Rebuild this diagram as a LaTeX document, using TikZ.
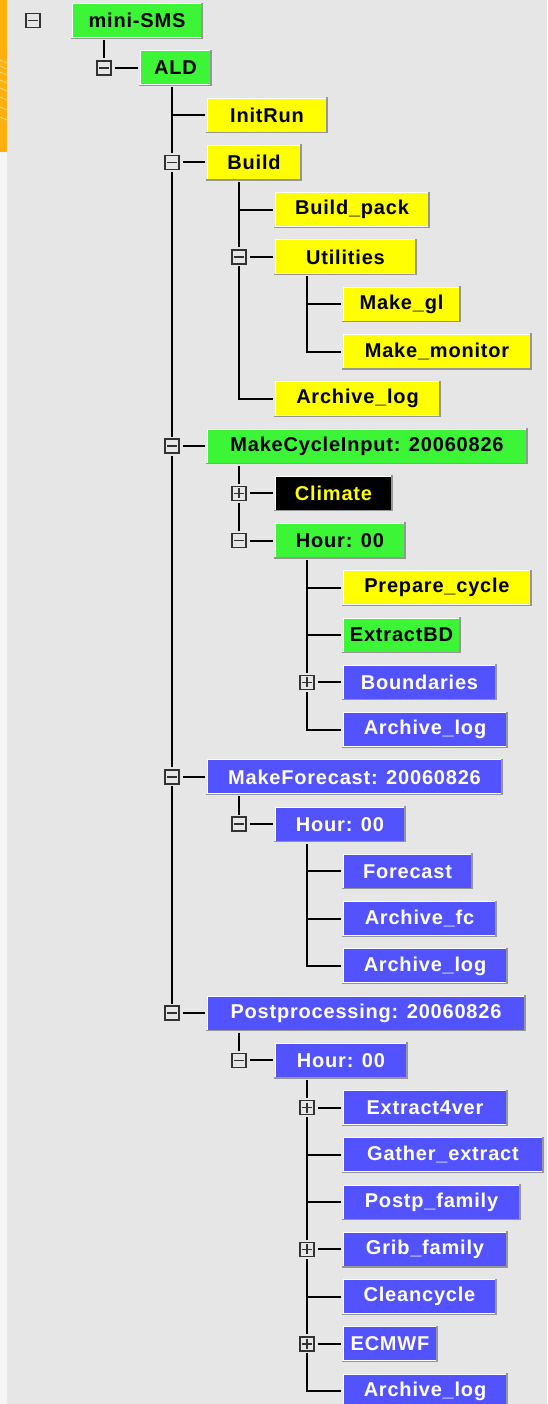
\documentclass[tikz,border=0pt]{standalone}
\usepackage{fontspec}
\usepackage{tikz}
\usetikzlibrary{positioning, backgrounds}

\newfontfamily\smsfont{Liberation Sans}[LetterSpace=4]

\definecolor{smsbg}{RGB}{230,230,230}
\definecolor{smsgreen}{RGB}{60,245,55}
\definecolor{smsyellow}{RGB}{255,255,0}
\definecolor{smsblue}{RGB}{82,82,255}
\definecolor{smsshadow}{RGB}{150,150,150}
\definecolor{togglegray}{RGB}{50,50,50}
\definecolor{smsorange}{RGB}{255,176,15}

\tikzset{
  task/.style={anchor=west, minimum height=34pt, inner sep=0pt, draw=white, line width=1pt,
    font=\smsfont\bfseries\fontsize{20}{22}\selectfont,
    append after command={(\tikzlastnode.south west) edge[boxshadow] (\tikzlastnode.south east)
      (\tikzlastnode.south east) edge[boxshadow] (\tikzlastnode.north east)}},
  boxshadow/.style={draw=smsshadow, line width=1.2pt, line cap=rect},
  activebox/.style={task, fill=smsgreen, text=black},
  completebox/.style={task, fill=smsyellow, text=black},
  queuedbox/.style={task, fill=smsblue, text=white},
  unknownbox/.style={task, fill=black, text=smsyellow},
  togglebox/.style={minimum size=14pt, inner sep=0pt, draw=togglegray, line width=1.6pt,
    fill=smsbg, preaction={draw=smsbg, line width=5pt}},
  minusbox/.style={togglebox, path picture={
    \draw[line width=1.5pt, togglegray] ([xshift=2pt]path picture bounding box.west) -- ([xshift=-2pt]path picture bounding box.east);}},
  plusbox/.style={togglebox, path picture={
    \draw[line width=1.5pt, togglegray] ([xshift=2pt]path picture bounding box.west) -- ([xshift=-2pt]path picture bounding box.east);
    \draw[line width=1.5pt, togglegray] ([yshift=-2pt]path picture bounding box.north) -- ([yshift=2pt]path picture bounding box.south);}},
  tree/.style={draw=black, line width=2pt},
  link/.style={tree, shorten <=3pt, shorten >=2pt},
}

\begin{document}
\begin{tikzpicture}[x=1pt, y=-47.26pt]
  \useasboundingbox (0pt,0pt) rectangle (547pt,-1404pt);
  \clip (0pt,0pt) rectangle (547pt,-1404pt);

  \begin{scope}[yshift=-20.7pt]
    % top of the tree
    \node[minusbox] (tsms) at (33,0) {};
    \node[activebox, minimum width=129pt] (sms) at (72,0) {mini-SMS};
    \node[minusbox] (tald) at (104,1) {};
    \node[activebox, minimum width=70pt] (ald) at (140,1) {ALD};

    % build part
    \node[completebox, minimum width=119pt] (initrun) at (207,2) {InitRun};
    \node[minusbox] (tbuild) at (172,3) {};
    \node[completebox, minimum width=93pt] (build) at (207,3) {Build};
    \node[completebox, minimum width=153pt] (buildpack) at (275,4) {Build\_pack};
    \node[minusbox] (tutil) at (239,5) {};
    \node[completebox, minimum width=140pt] (util) at (275,5) {Utilities};
    \node[completebox, minimum width=116pt] (makegl) at (343,6) {Make\_gl};
    \node[completebox, minimum width=187pt] (makemon) at (343,7) {Make\_monitor};
    \node[completebox, minimum width=164pt] (buildlog) at (275,8) {Archive\_log};

    % cycle input
    \node[minusbox] (tmci) at (172,9) {};
    \node[activebox, minimum width=319pt] (mci) at (207,9) {MakeCycleInput: 20060826};
    \node[plusbox] (tclim) at (239,10) {};
    \node[unknownbox, minimum width=116pt] (climate) at (275,10) {Climate};
    \node[minusbox] (tmcihour) at (239,11) {};
    \node[activebox, minimum width=129pt] (mcihour) at (275,11) {Hour: 00};
    \node[completebox, minimum width=187pt] (prepcycle) at (343,12) {Prepare\_cycle};
    \node[activebox, minimum width=116pt] (extractbd) at (343,13) {ExtractBD};
    \node[plusbox] (tbound) at (307,14) {};
    \node[queuedbox, minimum width=152pt] (bound) at (343,14) {Boundaries};
    \node[queuedbox, minimum width=163pt] (mcilog) at (343,15) {Archive\_log};

    % forecast
    \node[minusbox] (tmfc) at (172,16) {};
    \node[queuedbox, minimum width=294pt] (mfc) at (207,16) {MakeForecast: 20060826};
    \node[minusbox] (tmfchour) at (239,17) {};
    \node[queuedbox, minimum width=129pt] (mfchour) at (275,17) {Hour: 00};
    \node[queuedbox, minimum width=128pt] (forecast) at (343,18) {Forecast};
    \node[queuedbox, minimum width=152pt] (archfc) at (343,19) {Archive\_fc};
    \node[queuedbox, minimum width=163pt] (mfclog) at (343,20) {Archive\_log};

    % postprocessing
    \node[minusbox] (tpost) at (172,21) {};
    \node[queuedbox, minimum width=317pt] (post) at (207,21) {Postprocessing: 20060826};
    \node[minusbox] (tposthour) at (239,22) {};
    \node[queuedbox, minimum width=131pt] (posthour) at (275,22) {Hour: 00};
    \node[plusbox] (textr) at (307,23) {};
    \node[queuedbox, minimum width=163pt] (extr) at (343,23) {Extract4ver};
    \node[queuedbox, minimum width=199pt] (gather) at (343,24) {Gather\_extract};
    \node[queuedbox, minimum width=176pt] (postp) at (343,25) {Postp\_family};
    \node[plusbox] (tgrib) at (307,26) {};
    \node[queuedbox, minimum width=163pt] (grib) at (343,26) {Grib\_family};
    \node[queuedbox, minimum width=152pt] (clean) at (343,27) {Cleancycle};
    \node[plusbox] (tecmwf) at (307,28) {};
    \node[queuedbox, minimum width=93pt] (ecmwf) at (343,28) {ECMWF};
    \node[queuedbox, minimum width=163pt] (postlog) at (343,29) {Archive\_log};
  \end{scope}

  \begin{pgfonlayer}{background}
    \fill[smsbg] (0pt,0pt) rectangle (547pt,-1404pt);
    \fill[white!60!smsbg] (0pt,-152pt) rectangle (7pt,-1404pt);
    \fill[smsorange] (0pt,0pt) rectangle (7pt,-152pt);
    \foreach \yy in {60,66,72,80,88,97,107,117}
      \draw[white, opacity=0.6, line width=0.6pt] (0pt,-\yy pt) -- (7pt,-\yy pt-3pt);

    % vertical lines, one per open family
    \coordinate (smsv) at ([xshift=32pt,yshift=-2pt]sms.south west);
    \coordinate (aldv) at ([xshift=32pt,yshift=-2pt]ald.south west);
    \coordinate (buildv) at ([xshift=32pt,yshift=-2pt]build.south west);
    \coordinate (utilv) at ([xshift=32pt,yshift=-2pt]util.south west);
    \coordinate (mciv) at ([xshift=32pt,yshift=-2pt]mci.south west);
    \coordinate (mcihv) at ([xshift=32pt,yshift=-2pt]mcihour.south west);
    \coordinate (mfcv) at ([xshift=32pt,yshift=-2pt]mfc.south west);
    \coordinate (mfchv) at ([xshift=32pt,yshift=-2pt]mfchour.south west);
    \coordinate (postv) at ([xshift=32pt,yshift=-2pt]post.south west);
    \coordinate (posthv) at ([xshift=32pt,yshift=-2pt]posthour.south west);

    \draw[tree] (smsv) -- (tald);
    \draw[link] (tald) -- (ald);

    \draw[tree] (aldv) -- (tpost);
    \draw[tree, shorten >=2pt] (initrun.west -| aldv) -- (initrun);
    \draw[link] (tbuild) -- (build);
    \draw[link] (tmci) -- (mci);
    \draw[link] (tmfc) -- (mfc);
    \draw[link] (tpost) -- (post);

    \draw[tree] (buildv) |- ([xshift=-2pt]buildlog.west);
    \draw[tree, shorten >=2pt] (buildpack.west -| buildv) -- (buildpack);
    \draw[link] (tutil) -- (util);
    \draw[tree] (utilv) |- ([xshift=-2pt]makemon.west);
    \draw[tree, shorten >=2pt] (makegl.west -| utilv) -- (makegl);

    \draw[tree] (mciv) -- (tmcihour);
    \draw[link] (tclim) -- (climate);
    \draw[link] (tmcihour) -- (mcihour);
    \draw[tree] (mcihv) |- ([xshift=-2pt]mcilog.west);
    \draw[tree, shorten >=2pt] (prepcycle.west -| mcihv) -- (prepcycle);
    \draw[tree, shorten >=2pt] (extractbd.west -| mcihv) -- (extractbd);
    \draw[link] (tbound) -- (bound);

    \draw[tree] (mfcv) -- (tmfchour);
    \draw[link] (tmfchour) -- (mfchour);
    \draw[tree] (mfchv) |- ([xshift=-2pt]mfclog.west);
    \draw[tree, shorten >=2pt] (forecast.west -| mfchv) -- (forecast);
    \draw[tree, shorten >=2pt] (archfc.west -| mfchv) -- (archfc);

    \draw[tree] (postv) -- (tposthour);
    \draw[link] (tposthour) -- (posthour);
    \draw[tree] (posthv) |- ([xshift=-2pt]postlog.west);
    \draw[link] (textr) -- (extr);
    \draw[tree, shorten >=2pt] (gather.west -| posthv) -- (gather);
    \draw[tree, shorten >=2pt] (postp.west -| posthv) -- (postp);
    \draw[link] (tgrib) -- (grib);
    \draw[tree, shorten >=2pt] (clean.west -| posthv) -- (clean);
    \draw[link] (tecmwf) -- (ecmwf);
  \end{pgfonlayer}
\end{tikzpicture}
\end{document}
